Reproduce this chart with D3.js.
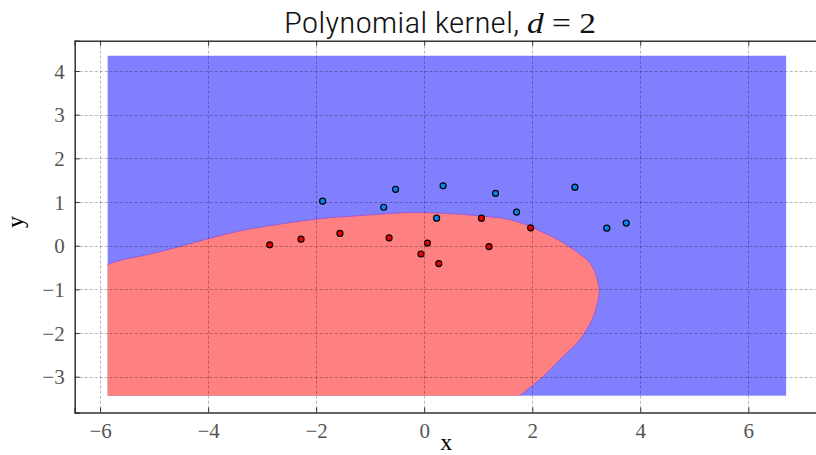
<!DOCTYPE html>
<html>
<head>
<meta charset="utf-8">
<script src="https://cdn.jsdelivr.net/npm/d3@7"></script>
<style>
  html, body { margin: 0; padding: 0; background: #fff; }
  svg { display: block; }
</style>
</head>
<body>
<svg id="chart" width="816" height="455"></svg>
<script>
// ---- data ----
const titleText = "Polynomial kernel, ";
const titleMath = "d";
const titleTail = " = 2";
const xTicks = [-6, -4, -2, 0, 2, 4, 6];
const yTicks = [-3, -2, -1, 0, 1, 2, 3, 4];
const xDomain = [-6.47, 7.29];
const yDomain = [-3.82, 4.694];
// extent of the evaluated mesh (blue background)
const meshX = [-5.86, 6.70];
const meshY = [-3.435, 4.35];
// decision boundary (red region lies below / left)
const boundaryX = [-5.86, -5.64, -5.14, -4.65, -4.15, -3.41, -2.80, -1.99, -1.07, -0.39, 0.00, 0.54, 1.22, 1.53, 1.96, 2.10, 2.40, 2.66, 3.07, 3.19, 3.24, 3.22, 3.13, 2.88, 2.57, 2.20, 1.77];
const boundaryY = [-0.43, -0.34, -0.21, -0.06, 0.11, 0.34, 0.47, 0.61, 0.70, 0.755, 0.76, 0.73, 0.66, 0.61, 0.45, 0.36, 0.19, 0.00, -0.40, -0.71, -1.01, -1.24, -1.63, -2.16, -2.54, -3.00, -3.435];
// class +1 (blue) and class -1 (red) samples
const blueX = [-1.88, -0.53, 0.35, 1.32, -0.75, 1.71, 0.23, 2.79, 3.38, 3.74];
const blueY = [1.02, 1.29, 1.37, 1.20, 0.88, 0.77, 0.63, 1.34, 0.40, 0.52];
const redX = [-2.86, -2.28, -1.56, -0.65, 0.06, -0.06, 0.27, 1.06, 1.20, 1.97];
const redY = [0.02, 0.15, 0.28, 0.18, 0.06, -0.19, -0.41, 0.63, -0.02, 0.41];

// ---- layout ----
const svg = d3.select("#chart");
const pL = 74.7, pR = 818, pT = 40.7, pB = 412.5;
const x = d3.scaleLinear().domain(xDomain).range([pL, pR]);
const y = d3.scaleLinear().domain(yDomain).range([pB, pT]);

// blue background mesh
svg.append("rect")
  .attr("x", x(meshX[0])).attr("y", y(meshY[1]))
  .attr("width", x(meshX[1]) - x(meshX[0]))
  .attr("height", y(meshY[0]) - y(meshY[1]))
  .attr("fill", "#8080ff");

// red region
const bpts = boundaryX.map((v, i) => [v, boundaryY[i]]);
const line = d3.line().x(d => x(d[0])).y(d => y(d[1])).curve(d3.curveCatmullRom);
const bPath = line(bpts);
svg.append("path")
  .attr("d", bPath + `L${x(meshX[0])},${y(meshY[0])}Z`)
  .attr("fill", "#ff8080");
svg.append("path")
  .attr("d", bPath)
  .attr("fill", "none")
  .attr("stroke", "#9a5ad8")
  .attr("stroke-width", 1);

// grid
const grid = svg.append("g").attr("stroke", "#000").attr("stroke-opacity", 0.28)
  .attr("stroke-width", 1).attr("stroke-dasharray", "3,2");
grid.selectAll("line.gx").data(xTicks).join("line")
  .attr("x1", d => Math.round(x(d)) + 0.5).attr("x2", d => Math.round(x(d)) + 0.5)
  .attr("y1", pT).attr("y2", pB);
grid.selectAll("line.gy").data(yTicks).join("line")
  .attr("y1", d => Math.round(y(d)) + 0.5).attr("y2", d => Math.round(y(d)) + 0.5)
  .attr("x1", pL).attr("x2", pR);

// points
function drawPts(xs, ys, color) {
  svg.append("g").selectAll("circle").data(xs.map((v, i) => [v, ys[i]])).join("circle")
    .attr("cx", d => x(d[0])).attr("cy", d => y(d[1])).attr("r", 3)
    .attr("fill", color).attr("stroke", "#000").attr("stroke-width", 1.2);
}
drawPts(blueX, blueY, "#0a82f0");
drawPts(redX, redY, "#ee0000");

// axes frame and ticks
const axCol = "#333";
const fmt = d => d < 0 ? "\u2212" + Math.abs(d) : String(d);
const axB = d3.axisBottom(x).tickValues(xTicks).tickSize(-5).tickPadding(11).tickFormat(fmt);
const axL = d3.axisLeft(y).tickValues(yTicks).tickSize(-5).tickPadding(10).tickFormat(fmt);
const axT = d3.axisTop(x).tickValues(xTicks).tickSize(-5).tickFormat("");
const gB = svg.append("g").attr("transform", `translate(0,${pB})`).call(axB);
const gL = svg.append("g").attr("transform", `translate(${pL},0)`).call(axL);
const gT = svg.append("g").attr("transform", `translate(0,${pT})`).call(axT);
[gB, gL, gT].forEach(g => {
  g.select(".domain").attr("stroke", axCol).attr("stroke-width", 1.5);
  g.selectAll(".tick line").attr("stroke", axCol).attr("stroke-width", 1);
  g.selectAll(".tick text").attr("fill", "#555")
    .style("font-family", "'Liberation Serif', 'DejaVu Serif', serif")
    .style("font-size", "21px");
});
gB.selectAll(".tick text").attr("dy", "0.71em");
gL.selectAll(".tick text").attr("dy", "0.34em");

// axis labels
svg.append("text").attr("x", (pL + pR) / 2).attr("y", 450)
  .attr("text-anchor", "middle")
  .style("font-family", "'Liberation Serif', serif").style("font-size", "24px")
  .attr("fill", "#000").text("x");
svg.append("text").attr("transform", "translate(23,222) rotate(-90)")
  .attr("text-anchor", "middle")
  .style("font-family", "'Liberation Serif', serif").style("font-size", "24px")
  .attr("fill", "#000").text("y");

// title
const t = svg.append("text").attr("x", 440).attr("y", 33).attr("text-anchor", "middle")
  .attr("fill", "#111").attr("textLength", 312).attr("lengthAdjust", "spacingAndGlyphs");
t.append("tspan").style("font-family", "'Liberation Sans Narrow', 'Roboto Condensed', Roboto, sans-serif")
  .style("font-size", "29px").style("font-weight", 300).text(titleText);
t.append("tspan").style("font-family", "'Liberation Serif', serif").style("font-style", "italic")
  .style("font-size", "29px").text(titleMath);
t.append("tspan").style("font-family", "'Liberation Serif', serif")
  .style("font-size", "29px").attr("xml:space", "preserve").text(titleTail);
</script>
</body>
</html>
